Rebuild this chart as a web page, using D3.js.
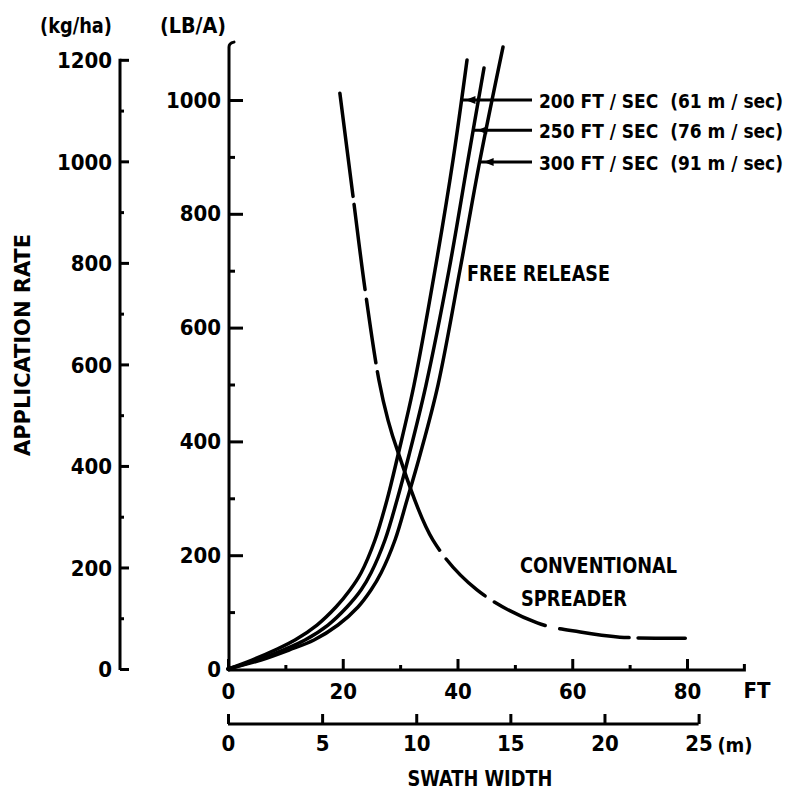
<!DOCTYPE html>
<html>
<head>
<meta charset="utf-8">
<script src="https://cdn.jsdelivr.net/npm/d3@7"></script>
<style>
  html, body { margin: 0; padding: 0; background: #fff; }
  svg { display: block; }
  text { font-family: "Liberation Sans Narrow", "DejaVu Sans Condensed", "Arial Narrow", sans-serif; font-weight: bold; fill: #000; white-space: pre; }
</style>
</head>
<body>
<svg id="chart" width="796" height="795"></svg>
<script>
// ---------- DATA ----------
const kgTicks = [0, 200, 400, 600, 800, 1000, 1200];
const kgMinorTicks = [100, 300, 500, 700, 900, 1100];
const lbTicks = [0, 200, 400, 600, 800, 1000];
const lbMinorTicks = [100, 300, 500, 700, 900];
const ftTicks = [0, 20, 40, 60, 80];
const ftMinorTicks = [10, 30, 50, 70];
const mTicks = [0, 5, 10, 15, 20, 25];
const LB_TO_KG = 1.12085;
const FT_PER_M = 3.2808;

const seriesNames = ["200 FT / SEC  (61 m / sec)", "250 FT / SEC  (76 m / sec)", "300 FT / SEC  (91 m / sec)"];
// free release: swath width (ft) and application rate (LB/A)
const free200Ft = [0, 4.18, 8.19, 11.68, 15.51, 18.82, 21.26, 23.18, 25.62, 27.71, 29.63, 32.42, 36.08, 39.22, 41.66];
const free200Lb = [0, 15.8, 33.4, 51.0, 77.3, 109.0, 138.8, 168.7, 226.7, 297.0, 376.1, 499.1, 701.2, 894.6, 1070.3];
const free250Ft = [0, 5.05, 9.59, 13.42, 17.43, 20.74, 23.18, 24.92, 27.36, 29.46, 31.55, 34.51, 38.52, 41.83, 44.62];
const free250Lb = [0, 15.8, 33.4, 51.0, 77.3, 109.0, 138.8, 168.7, 226.7, 297.0, 376.1, 499.1, 701.2, 894.6, 1056.2];
const free300Ft = [0, 5.75, 10.63, 14.99, 19.17, 22.66, 24.92, 26.67, 29.11, 31.20, 33.46, 36.60, 40.43, 43.92, 47.93];
const free300Lb = [0, 15.8, 33.4, 51.0, 77.3, 109.0, 138.8, 168.7, 226.7, 297.0, 376.1, 499.1, 701.2, 894.6, 1093.1];
// conventional spreader
const convFt = [19.5, 21.8, 23.9, 26.3, 27.9, 29.5, 35.7, 43.4, 53.9, 61.4, 68.3, 79.7];
const convLb = [1012, 830, 666, 508, 437, 385, 227, 139, 81, 65, 56, 54];
// rate at which each legend leader meets its curve
const legendLb = [1000, 947, 891];

// ---------- SCALES ----------
const svg = d3.select("#chart");
const x = d3.scaleLinear().domain([0, 80]).range([228, 687]);
const xm = d3.scaleLinear().domain([0, 80 / FT_PER_M]).range([228, 687]);
const y = d3.scaleLinear().domain([0, 1000]).range([669, 100]);
const yKg = d3.scaleLinear().domain([0, 1000 * LB_TO_KG]).range([669, 100]);

const SW = 3;

function styleAxis(g) {
  g.select(".domain").remove();
  g.selectAll(".tick line").attr("stroke", "#000").attr("stroke-width", SW);
  g.selectAll(".tick text").attr("font-size", 22).attr("font-family", null);
}

// ---------- kg/ha axis ----------
const kgX = 120;
const gKg = svg.append("g").attr("transform", `translate(${kgX},0)`)
  .call(d3.axisLeft(yKg).tickValues(kgTicks).tickSizeInner(-9).tickSizeOuter(0).tickPadding(8).tickFormat(d3.format("d")));
styleAxis(gKg);
gKg.selectAll(".tick text").attr("dy", "0.36em");
const gKgMinor = svg.append("g").attr("transform", `translate(${kgX},0)`)
  .call(d3.axisLeft(yKg).tickValues(kgMinorTicks).tickSizeInner(-4).tickSizeOuter(0).tickFormat(""));
styleAxis(gKgMinor);
svg.append("line").attr("x1", kgX).attr("x2", kgX).attr("y1", yKg(0) + 1).attr("y2", yKg(1200) - 1)
  .attr("stroke", "#000").attr("stroke-width", SW);

// ---------- LB/A axis ----------
const lbX = 229;
const gLb = svg.append("g").attr("transform", `translate(${lbX},0)`)
  .call(d3.axisLeft(y).tickValues(lbTicks).tickSizeInner(-14).tickSizeOuter(0).tickPadding(8).tickFormat(d3.format("d")));
styleAxis(gLb);
gLb.selectAll(".tick").filter(d => d === 0).select("line").remove();
const gLbMinor = svg.append("g").attr("transform", `translate(${lbX},0)`)
  .call(d3.axisLeft(y).tickValues(lbMinorTicks).tickSizeInner(-6).tickSizeOuter(0).tickFormat(""));
styleAxis(gLbMinor);
svg.append("path")
  .attr("d", `M${lbX},${y(0) + 1} L${lbX},${y(1100) + 4} Q${lbX},${y(1100)} ${lbX + 5},${y(1100) - 1}`)
  .attr("fill", "none").attr("stroke", "#000").attr("stroke-width", SW).attr("stroke-linecap", "round");

// ---------- FT axis ----------
const ftY = 670;
const gFt = svg.append("g").attr("transform", `translate(0,${ftY})`)
  .call(d3.axisBottom(x).tickValues(ftTicks).tickSizeInner(-11).tickSizeOuter(0).tickPadding(13).tickFormat(d3.format("d")));
styleAxis(gFt);
const gFtMinor = svg.append("g").attr("transform", `translate(0,${ftY})`)
  .call(d3.axisBottom(x).tickValues(ftMinorTicks).tickSizeInner(-5).tickSizeOuter(0).tickFormat(""));
styleAxis(gFtMinor);
svg.append("path")
  .attr("d", `M${x(0)},${ftY} L${x(90)},${ftY} L${x(90)},${ftY - 6}`)
  .attr("fill", "none").attr("stroke", "#000").attr("stroke-width", SW);
svg.append("text").attr("x", 757).attr("y", ftY + 28).attr("font-size", 22).attr("text-anchor", "middle").text("FT");

// ---------- m axis ----------
const mY = 724;
const gM = svg.append("g").attr("transform", `translate(0,${mY})`)
  .call(d3.axisBottom(xm).tickValues(mTicks).tickSizeInner(-10).tickSizeOuter(0).tickPadding(11).tickFormat(d3.format("d")));
styleAxis(gM);
svg.append("line").attr("x1", xm(0)).attr("x2", xm(25)).attr("y1", mY).attr("y2", mY)
  .attr("stroke", "#000").attr("stroke-width", SW);
svg.append("text").attr("x", 735).attr("y", mY + 28).attr("font-size", 20).attr("text-anchor", "middle").text("(m)");
svg.append("text").attr("x", 480).attr("y", 786).attr("font-size", 22).attr("text-anchor", "middle")
  .attr("textLength", 145).attr("lengthAdjust", "spacingAndGlyphs").text("SWATH WIDTH");

// ---------- unit labels ----------
svg.append("text").attr("x", 76).attr("y", 33).attr("font-size", 21).attr("text-anchor", "middle")
  .attr("textLength", 72).attr("lengthAdjust", "spacingAndGlyphs").text("(kg/ha)");
svg.append("text").attr("x", 193).attr("y", 33).attr("font-size", 21).attr("text-anchor", "middle")
  .attr("textLength", 66).attr("lengthAdjust", "spacingAndGlyphs").text("(LB/A)");
svg.append("text").attr("transform", "translate(30,345) rotate(-90)").attr("font-size", 21).attr("text-anchor", "middle")
  .attr("textLength", 222).attr("lengthAdjust", "spacingAndGlyphs").text("APPLICATION RATE");

// ---------- curves ----------
const line = d3.line().x(d => x(d[0])).y(d => y(d[1])).curve(d3.curveCatmullRom.alpha(0.5));
const freeSeries = [
  d3.zip(free200Ft, free200Lb),
  d3.zip(free250Ft, free250Lb),
  d3.zip(free300Ft, free300Lb)
];
freeSeries.forEach(s => {
  svg.append("path").datum(s).attr("d", line)
    .attr("fill", "none").attr("stroke", "#000").attr("stroke-width", 3.5)
    .attr("stroke-linecap", "round").attr("stroke-linejoin", "round");
});
svg.append("path").datum(d3.zip(convFt, convLb)).attr("d", line)
  .attr("fill", "none").attr("stroke", "#000").attr("stroke-width", 3.5)
  .attr("stroke-linecap", "round")
  .attr("stroke-dasharray", "104,8,86,10,64,9,190,11,54,11,56,15,70,9,80");

// ---------- legend leaders ----------
function ftAt(ft, lb, target) {
  for (let i = 1; i < lb.length; i++) {
    if (lb[i] >= target) {
      const t = (target - lb[i - 1]) / (lb[i] - lb[i - 1]);
      return ft[i - 1] + t * (ft[i] - ft[i - 1]);
    }
  }
  return ft[ft.length - 1];
}
const labelX = 539;
freeSeries.forEach((s, i) => {
  const ft = s.map(d => d[0]), lb = s.map(d => d[1]);
  const x0 = x(ftAt(ft, lb, legendLb[i]));
  const yy = y(legendLb[i]);
  svg.append("line").attr("x1", x0).attr("x2", labelX - 7).attr("y1", yy).attr("y2", yy)
    .attr("stroke", "#000").attr("stroke-width", 3);
  svg.append("path")
    .attr("d", `M${x0 + 4},${yy} L${x0 + 14},${yy - 4} L${x0 + 14},${yy + 4} Z`)
    .attr("fill", "#000");
  svg.append("text").attr("x", labelX).attr("y", yy + 8).attr("font-size", 20)
    .attr("textLength", 244).attr("lengthAdjust", "spacingAndGlyphs").text(seriesNames[i]);
});

// ---------- annotations ----------
svg.append("text").attr("x", 467).attr("y", 281).attr("font-size", 22)
  .attr("textLength", 143).attr("lengthAdjust", "spacingAndGlyphs").text("FREE RELEASE");
svg.append("text").attr("x", 520).attr("y", 573).attr("font-size", 22)
  .attr("textLength", 157).attr("lengthAdjust", "spacingAndGlyphs").text("CONVENTIONAL");
svg.append("text").attr("x", 521).attr("y", 606).attr("font-size", 22)
  .attr("textLength", 106).attr("lengthAdjust", "spacingAndGlyphs").text("SPREADER");
</script>
</body>
</html>
